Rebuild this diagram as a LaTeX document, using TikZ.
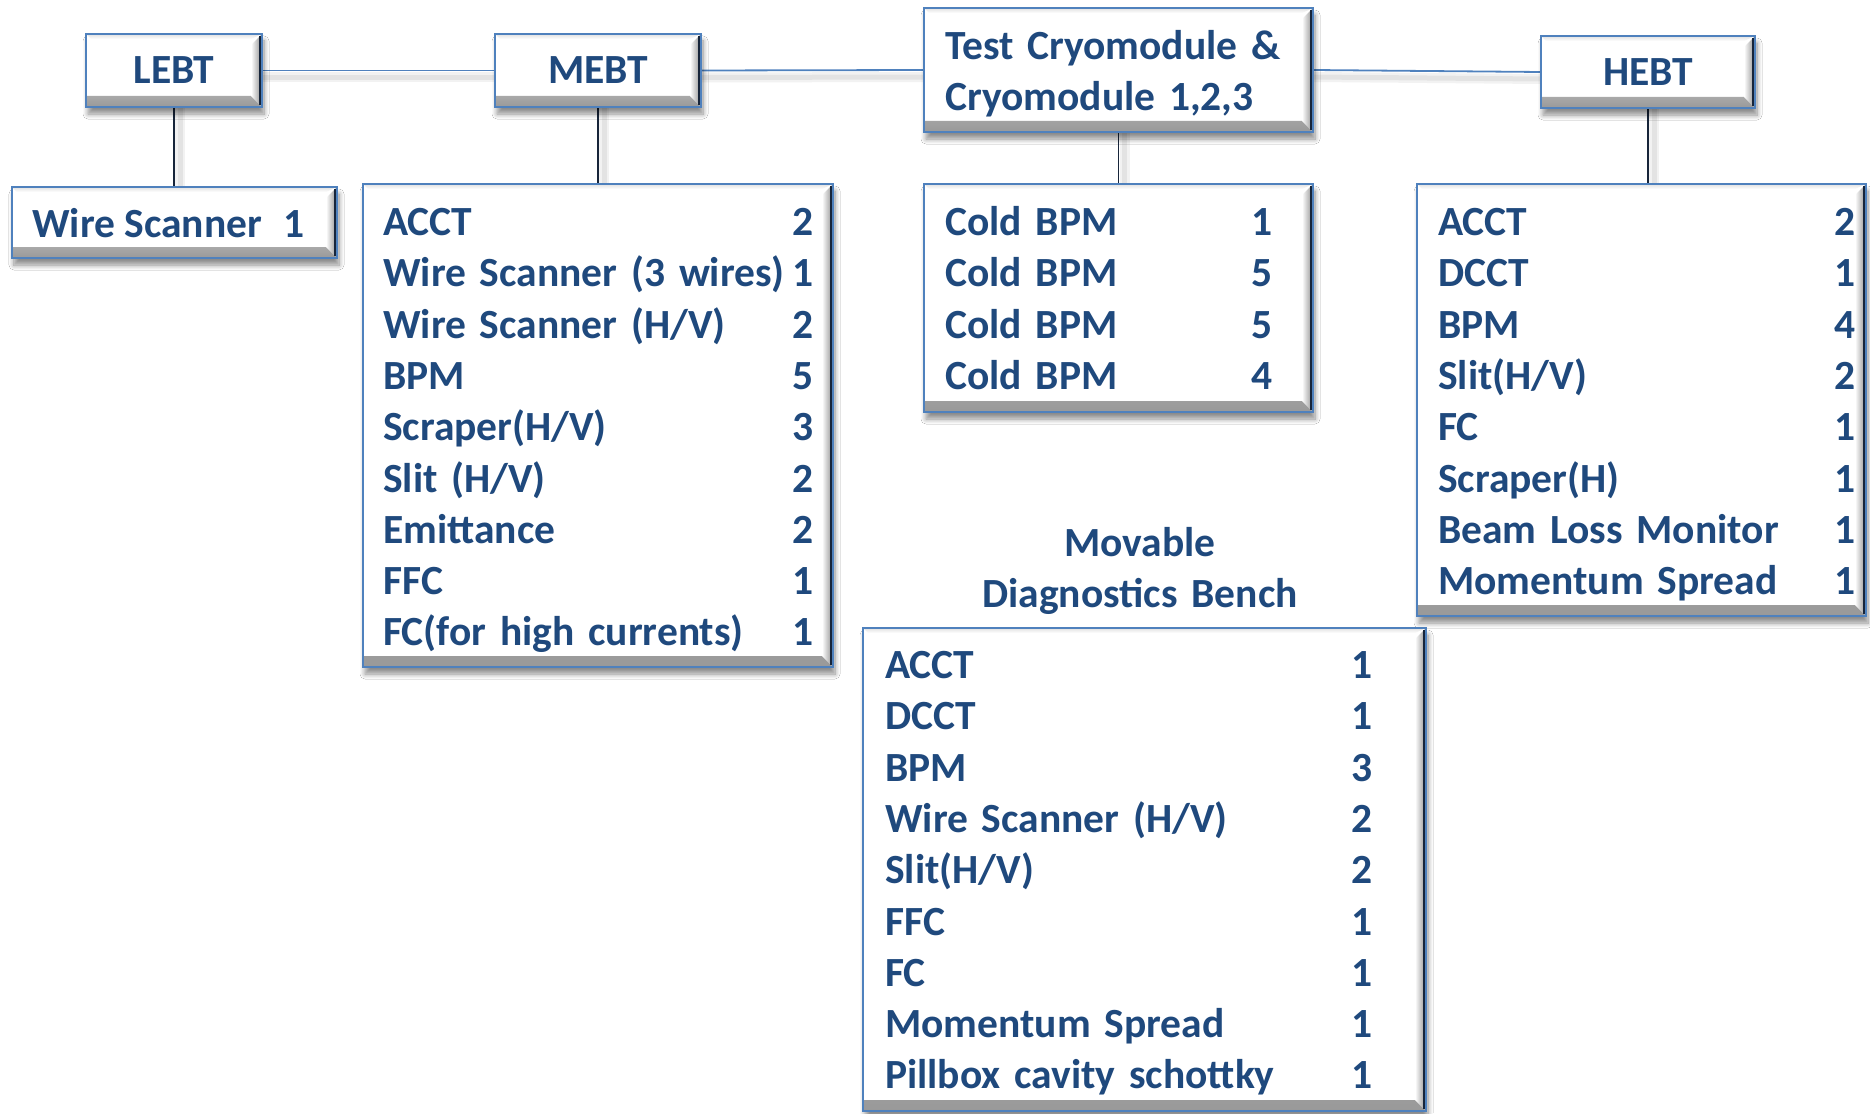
\documentclass[tikz,border=0pt]{standalone}
\usepackage{fontspec}
\setmainfont{Carlito}
\usetikzlibrary{shadows,shadows.blur,backgrounds,calc}
\definecolor{txtblue}{HTML}{1F497D}
\definecolor{boxblue}{HTML}{4F81BD}
\definecolor{linedark}{HTML}{17253A}
\tikzset{
  bevelbox/.style={draw=boxblue, line width=1.6pt, fill=white, inner sep=0pt, outer sep=0pt,
    text=txtblue, font={\fontsize{41.5}{51.3}\selectfont\bfseries},
    blur shadow={shadow xshift=2pt, shadow yshift=-7pt, shadow blur steps=8, shadow opacity=45, shadow blur radius=5pt},
    path picture={
      \shade[top color=white, bottom color=black!40]
        ([yshift=11pt]path picture bounding box.south west) --
        ([xshift=-11pt,yshift=11pt]path picture bounding box.south east) --
        (path picture bounding box.south east) --
        (path picture bounding box.south west) -- cycle;
      \shade[left color=white, right color=black!45]
        ([xshift=-11pt,yshift=-11pt]path picture bounding box.north east) --
        (path picture bounding box.north east) --
        (path picture bounding box.south east) --
        ([xshift=-11pt,yshift=11pt]path picture bounding box.south east) -- cycle;
      \shade[top color=black!12, bottom color=white]
        (path picture bounding box.north west) --
        (path picture bounding box.north east) --
        ([xshift=-11pt,yshift=-5pt]path picture bounding box.north east) --
        ([xshift=5pt,yshift=-5pt]path picture bounding box.north west) -- cycle;
      \draw[linedark, line width=2.2pt]
        ([xshift=-1.6pt,yshift=-2pt]path picture bounding box.north east) --
        ([xshift=-1.6pt,yshift=2pt]path picture bounding box.south east);
    }},
  listtext/.style={text=txtblue, font={\fontsize{41.5}{51.3}\selectfont\bfseries},
    align=left, inner sep=0pt, anchor=base west},
  hconn/.style={draw=boxblue, line width=1.8pt,
    preaction={draw=black, opacity=0.05, line width=10pt, transform canvas={yshift=-7pt}},
    preaction={draw=black, opacity=0.06, line width=5pt, transform canvas={yshift=-7pt}}},
  vconn/.style={draw=linedark, line width=1.8pt,
    preaction={draw=black, opacity=0.05, line width=10pt, transform canvas={xshift=6pt}},
    preaction={draw=black, opacity=0.06, line width=5pt, transform canvas={xshift=6pt}}},
}
\begin{document}
\begin{tikzpicture}[x=1pt, y=-1pt]
\useasboundingbox (0,0) rectangle (1870,1113);

% top row
\node[bevelbox, minimum width=176pt, minimum height=73pt] (lebt) at (174,70.5) {LEBT};
\node[bevelbox, minimum width=206pt, minimum height=73pt] (mebt) at (598,70.5) {MEBT};
\node[bevelbox, minimum width=389pt, minimum height=124pt] (test) at (1118.5,70) {};
\node[listtext, text width=368pt] (testt) at (945,59.5) {Test Cryomodule \&\\Cryomodule 1,2,3};
\node[bevelbox, minimum width=214pt, minimum height=72pt] (hebt) at (1648,72) {HEBT};

% second row
\node[bevelbox, minimum width=325pt, minimum height=71pt] (ws1) at (174.5,222.5) {};
\node[listtext] (ws1t) at (32,237) {Wire Scanner\hspace{22pt}1};

\node[bevelbox, minimum width=470pt, minimum height=483pt] (mebtl) at (598,425.5) {};
\node[listtext, text width=430pt] (mebtt) at (383,235.5) {%
ACCT\hfill 2\\
Wire Scanner (3 wires)\hfill 1\\
Wire Scanner (H/V)\hfill 2\\
BPM\hfill 5\\
Scraper(H/V)\hfill 3\\
Slit (H/V)\hfill 2\\
Emittance\hfill 2\\
FFC\hfill 1\\
FC(for high currents)\hfill 1};

\node[bevelbox, minimum width=389pt, minimum height=228pt] (cold) at (1118.5,298) {};
\node[listtext, text width=327pt] (coldt) at (945,235.5) {%
Cold BPM\hfill 1\\
Cold BPM\hfill 5\\
Cold BPM\hfill 5\\
Cold BPM\hfill 4};

\node[bevelbox, minimum width=449pt, minimum height=432pt] (hebtl) at (1641.5,400) {};
\node[listtext, text width=417pt] (hebtt) at (1438,235.5) {%
ACCT\hfill 2\\
DCCT\hfill 1\\
BPM\hfill 4\\
Slit(H/V)\hfill 2\\
FC\hfill 1\\
Scraper(H)\hfill 1\\
Beam Loss Monitor\hfill 1\\
Momentum Spread\hfill 1};

% movable bench
\node[text=txtblue, font={\fontsize{41.5}{51.3}\selectfont\bfseries}, align=center,
      text width=420pt, inner sep=0pt, anchor=base] (benchlabel) at (1140,556.5)
      {Movable\\Diagnostics Bench};
\node[bevelbox, minimum width=563pt, minimum height=483pt] (bench) at (1144.5,869.5) {};
\node[listtext, text width=487pt] (bencht) at (885,678.5) {%
ACCT\hfill 1\\
DCCT\hfill 1\\
BPM\hfill 3\\
Wire Scanner (H/V)\hfill 2\\
Slit(H/V)\hfill 2\\
FFC\hfill 1\\
FC\hfill 1\\
Momentum Spread\hfill 1\\
Pillbox cavity schottky\hfill 1};

\begin{scope}[on background layer]
\fill[white] (0,0) rectangle (1870,1113);
\draw[hconn] (lebt.east) -- (mebt.west);
\draw[hconn] (mebt.east) -- (test.west);
\draw[hconn] (test.east) -- (hebt.west);
\draw[vconn] (lebt.south) -- (lebt.south |- ws1.north);
\draw[vconn] (mebt.south) -- (mebt.south |- mebtl.north);
\draw[vconn] (test.south) -- (test.south |- cold.north);
\draw[vconn] (hebt.south) -- (hebt.south |- hebtl.north);
\end{scope}
\end{tikzpicture}
\end{document}
